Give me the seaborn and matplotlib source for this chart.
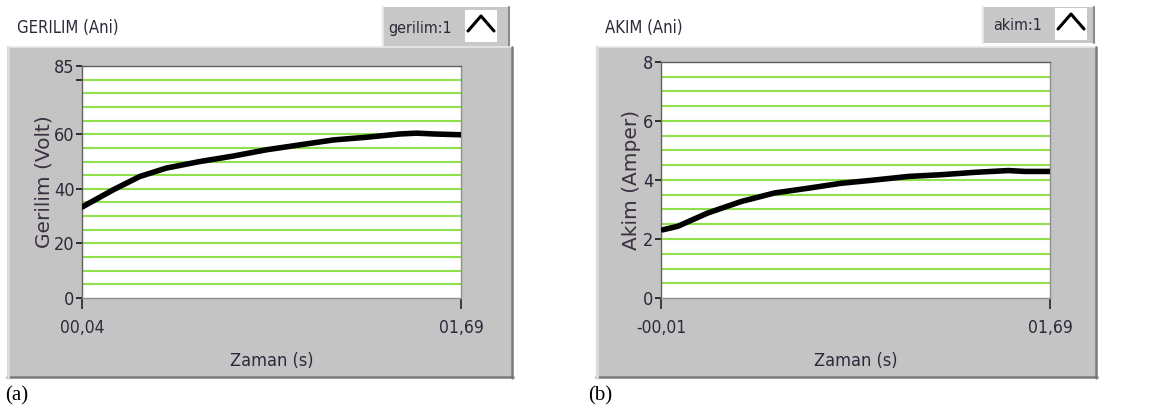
import matplotlib
matplotlib.use("Agg")
import matplotlib.pyplot as plt
import seaborn as sns
import pandas as pd
from matplotlib.patches import Rectangle
from matplotlib.lines import Line2D
from matplotlib import font_manager

# ---------------- data ----------------
time_a = [0.04, 0.175, 0.291, 0.407, 0.553, 0.698, 0.843, 0.988, 1.134, 1.279, 1.424, 1.497, 1.570, 1.69]
volt_a = [33.3, 39.6, 44.5, 47.6, 50.0, 52.0, 54.3, 56.1, 57.9, 58.9, 60.1, 60.4, 60.1, 59.8]

time_b = [-0.003, 0.063, 0.194, 0.340, 0.486, 0.632, 0.778, 0.924, 1.070, 1.216, 1.362, 1.508, 1.581, 1.69]
amp_b = [2.31, 2.43, 2.88, 3.27, 3.56, 3.72, 3.89, 4.00, 4.12, 4.18, 4.26, 4.32, 4.29, 4.29]

xticks_a = [0.04, 1.69]
xticklabels_a = ["00,04", "01,69"]
yticks_a = [0, 20, 40, 60, 85]
ygrid_a = [5 * i for i in range(1, 17)]

xticks_b = [-0.01, 1.69]
xticklabels_b = ["-00,01", "01,69"]
yticks_b = [0, 2, 4, 6, 8]
ygrid_b = [0.5 * i for i in range(1, 16)]

titles = ["GERILIM (Ani)", "AKIM (Ani)"]
legends = ["gerilim:1", "akim:1"]
ylabels = ["Gerilim (Volt)", "Akim (Amper)"]
xlabel = "Zaman (s)"
panel_tags = ["(a)", "(b)"]

# ---------------- style ----------------
sns.set_theme(style="white")
names = {f.name for f in font_manager.fontManager.ttflist}
if "Liberation Sans Narrow" in names:
    NARROW = ["Liberation Sans Narrow", "DejaVu Sans"]
    NSTRETCH = "normal"
else:
    NARROW = ["DejaVu Sans"]
    NSTRETCH = "condensed"
plt.rcParams["font.family"] = NARROW
plt.rcParams["font.stretch"] = NSTRETCH

W, H = 1155, 411
fig = plt.figure(figsize=(W / 100, H / 100), dpi=100)
fig.patch.set_facecolor("white")

GRAY = "#c4c4c4"
GREEN = "#8fe04a"
TXT = "#2a2a3a"


def fx(px):
    return px / W


def fy(py):
    return 1 - py / H


def add_rect(x0, y0, x1, y1, color, z=0, **kw):
    r = Rectangle((fx(x0), fy(y1)), fx(x1) - fx(x0), fy(y0) - fy(y1),
                  transform=fig.transFigure, facecolor=color, edgecolor="none",
                  zorder=z, **kw)
    fig.patches.append(r)


def add_line(xs, ys, color, lw, z=1):
    fig.lines.append(Line2D([fx(v) for v in xs], [fy(v) for v in ys],
                            transform=fig.transFigure, color=color, lw=lw, zorder=z))


panels = [
    dict(frame=(7, 47, 513, 378), legbox=(383, 7, 510, 47), iconbox=(465, 10, 497, 42),
         ax=(82, 66, 461, 298), title_x=17, tag_x=5, ylab_x=54,
         t=time_a, v=volt_a, xt=xticks_a, xtl=xticklabels_a, yt=yticks_a, yg=ygrid_a,
         xlim=(0.04, 1.69), ylim=(0, 85), minor=[80]),
    dict(frame=(596, 47, 1097, 378), legbox=(983, 7, 1095, 43), iconbox=(1055, 8, 1087, 40),
         ax=(661, 62, 1050, 298), title_x=605, tag_x=588, ylab_x=641,
         t=time_b, v=amp_b, xt=xticks_b, xtl=xticklabels_b, yt=yticks_b, yg=ygrid_b,
         xlim=(-0.01, 1.69), ylim=(0, 8), minor=[]),
]

for i, p in enumerate(panels):
    x0, y0, x1, y1 = p["frame"]
    # legend tab
    lx0, ly0, lx1, ly1 = p["legbox"]
    add_rect(lx0, ly0, lx1, ly1, "#c8c8c8", z=0)
    add_line([lx1 - 1, lx1 - 1], [ly0, ly1], "#8a8a8a", 1.5)
    add_line([lx0, lx0], [ly0, ly1], "#e6e6e6", 1.5)
    ix0, iy0, ix1, iy1 = p["iconbox"]
    add_rect(ix0, iy0, ix1, iy1, "white", z=1)
    add_line([ix0 + 3, (ix0 + ix1) / 2, ix1 - 3], [iy1 - 11, iy0 + 6, iy1 - 11], "black", 2.2, z=2)
    fig.text(fx(ix0 - 13), fy((ly0 + ly1) / 2 + 1), legends[i], ha="right", va="center",
             fontsize=11.5, color=TXT, family=NARROW, stretch=NSTRETCH)
    # main frame
    add_rect(x0, y0, x1, y1, GRAY, z=0)
    add_line([x0, x1], [y0 + 0.5, y0 + 0.5], "#e8e8e8", 1.2)
    add_line([x0, x1], [y1 - 1, y1 - 1], "#7a7a7a", 1.8)
    add_line([x1 - 1, x1 - 1], [y0, y1], "#7a7a7a", 1.8)
    add_line([x0 + 1, x0 + 1], [y0, y1], "#dcdcdc", 2)
    # title
    fig.text(fx(p["title_x"]), fy(28), titles[i], ha="left", va="center",
             fontsize=12, color=TXT, family=NARROW, stretch=NSTRETCH)
    # panel tag
    fig.text(fx(p["tag_x"]), fy(396), panel_tags[i], ha="left", va="center",
             fontsize=15, color="black", family=["Liberation Serif", "DejaVu Serif"],
             stretch="normal")

    ax0, ay0, ax1, ay1 = p["ax"]
    ax = fig.add_axes([fx(ax0), fy(ay1), fx(ax1) - fx(ax0), fy(ay0) - fy(ay1)])
    ax.set_zorder(5)
    ax.set_facecolor("white")
    for yv in p["yg"]:
        ax.axhline(yv, color=GREEN, lw=1.5, zorder=1)
    df = pd.DataFrame({"t": p["t"], "v": p["v"]})
    sns.lineplot(data=df, x="t", y="v", ax=ax, color="black", lw=4.0,
                 estimator=None, sort=False, zorder=3)
    ax.set_xlim(*p["xlim"])
    ax.set_ylim(*p["ylim"])
    ax.set_xticks(p["xt"])
    ax.set_xticklabels(p["xtl"], family=NARROW, stretch=NSTRETCH)
    ax.set_yticks(p["yt"])
    ax.set_yticklabels([str(v) for v in p["yt"]], family=NARROW, stretch=NSTRETCH)
    if p["minor"]:
        ax.set_yticks(p["minor"], minor=True)
        ax.tick_params(axis="y", which="minor", direction="out", length=4, width=1.3,
                       color="#222222", left=True)
    ax.tick_params(axis="y", which="major", direction="out", length=4.5, width=1.3,
                   color="#222222", labelsize=13, labelcolor=TXT, pad=1, left=True)
    ax.tick_params(axis="x", which="major", direction="out", length=8, width=1.2,
                   color="#222222", labelsize=12.5, labelcolor=TXT, pad=7, bottom=True)
    for s in ax.spines.values():
        s.set_color("#909090")
        s.set_linewidth(1.0)
    ax.spines["left"].set_color("#606060")
    ax.spines["top"].set_color("#606060")
    ax.set_xlabel(xlabel, fontsize=13, color=TXT, family=NARROW, stretch=NSTRETCH, labelpad=11)
    ax.set_ylabel(ylabels[i], fontsize=14.5, color="#3c3040",
                  family=["DejaVu Sans"], stretch="normal")
    ax.yaxis.set_label_coords((p["ylab_x"] - ax0) / (ax1 - ax0), 0.5)
    ax.grid(False)

fig.savefig("out.png", dpi=100, facecolor="white")
